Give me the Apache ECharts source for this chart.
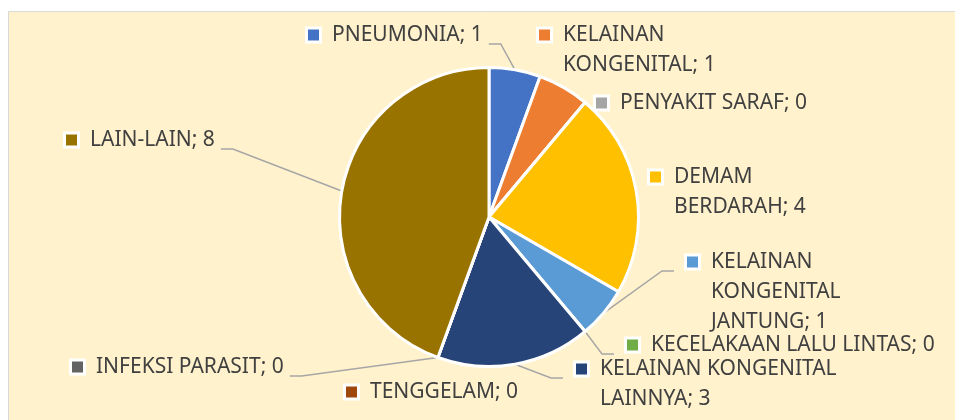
<!DOCTYPE html>
<html lang="">
<head>
  <meta charset="utf-8"/>
  <title>Pie</title>
  <script src="https://cdn.jsdelivr.net/npm/echarts@6/dist/echarts.min.js"></script>
  <style>
    html, body { margin: 0; background: #fff; }
    #chart { width: 955px; height: 420px; }
  </style>
</head>
<body>
<div id="chart"></div>
<script>
  // data
  var names = ['PNEUMONIA', 'KELAINAN KONGENITAL', 'PENYAKIT SARAF', 'DEMAM BERDARAH',
    'KELAINAN KONGENITAL JANTUNG', 'KECELAKAAN LALU LINTAS', 'KELAINAN KONGENITAL LAINNYA',
    'TENGGELAM', 'INFEKSI PARASIT', 'LAIN-LAIN'];
  var labelNames = ['PNEUMONIA', 'KELAINAN\nKONGENITAL', 'PENYAKIT SARAF', 'DEMAM\nBERDARAH',
    'KELAINAN\nKONGENITAL\nJANTUNG', 'KECELAKAAN LALU LINTAS', 'KELAINAN KONGENITAL\nLAINNYA',
    'TENGGELAM', 'INFEKSI PARASIT', 'LAIN-LAIN'];
  var values = [1, 1, 0, 4, 1, 0, 3, 0, 0, 8];

  var colors = ['#4472C4', '#ED7D31', '#A5A5A5', '#FFC000', '#5B9BD5',
    '#70AD47', '#264478', '#9E480E', '#636363', '#997300'];

  // label box top-left, and whether a leader line is drawn
  var labelPos = [
    [308, 20, true], [539, 20, false], [596, 88, false], [650, 162, false],
    [687, 247, true], [627, 330, true], [576, 354, true], [346, 377, false],
    [72, 352, true], [66, 125, true]
  ];

  var rich = {
    s: { width: 11, height: 11 },
    g: { width: 13 },
    t: { fontSize: 21, lineHeight: 30, color: '#404040', fontFamily: 'Noto Sans' }
  };
  colors.forEach(function (c, i) {
    rich['m' + i] = { width: 11, height: 11, backgroundColor: c, borderColor: '#fff', borderWidth: 3 };
  });

  var data = names.map(function (n, i) {
    return { name: n, value: values[i], labelLine: { show: labelPos[i][2] } };
  });

  var chart = echarts.init(document.getElementById('chart'));
  chart.setOption({
    animation: false,
    color: colors,
    graphic: [{
      type: 'rect', z: -10, silent: true,
      shape: { x: 8.5, y: 11.5, width: 960, height: 420 },
      style: { fill: '#FFF2CC', stroke: '#D9D9D9', lineWidth: 1 }
    }],
    series: [{
      type: 'pie',
      center: [489, 217],
      radius: 149.5,
      avoidLabelOverlap: false,
      itemStyle: { borderColor: '#fff', borderWidth: 3 },
      emphasis: { disabled: true },
      label: {
        show: true,
        formatter: function (p) {
          var lines = labelNames[p.dataIndex].split('\n');
          lines[lines.length - 1] += '; ' + p.value;
          return lines.map(function (l, i) {
            return (i === 0 ? '{m' + p.dataIndex + '|}' : '{s|}') + '{g|}{t|' + l + '}';
          }).join('\n');
        },
        rich: rich
      },
      labelLine: { show: true, lineStyle: { color: '#A6A6A6', width: 1.5 } },
      labelLayout: function (p) {
        var pos = labelPos[p.dataIndex];
        var x = pos[0], y = pos[1];
        var out = { x: x, y: y, align: 'left', verticalAlign: 'top' };
        if (p.labelLinePoints) {
          var s = p.labelLinePoints[0];
          var w = p.labelRect.width;
          var ey = y + 24, ex, bx;
          if (x + w / 2 > s[0]) { ex = x - 13; bx = ex - 12; }
          else { ex = x + w + 3; bx = ex + 12; }
          out.labelLinePoints = [s, [bx, ey], [ex, ey]];
        }
        return out;
      },
      data: data
    }]
  });
</script>
</body>
</html>
